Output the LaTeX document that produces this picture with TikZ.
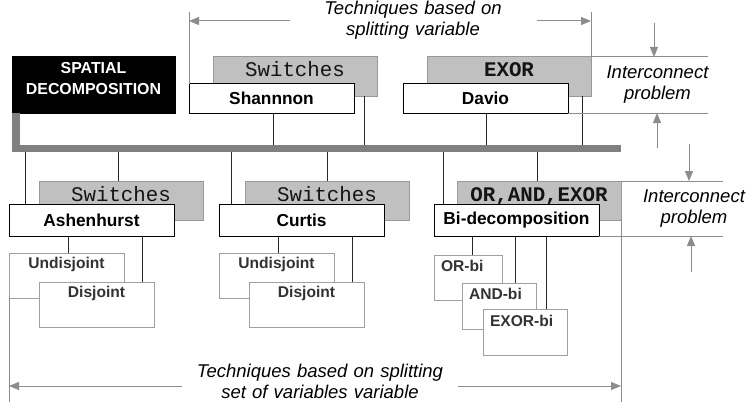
\documentclass[tikz,border=0pt]{standalone}
\usepackage{fontspec}
\setmainfont{Liberation Sans}
\newfontfamily\monofont{Liberation Mono}
\usetikzlibrary{arrows.meta}

\definecolor{boxfill}{HTML}{C0C0C0}
\definecolor{boxline}{HTML}{999999}
\definecolor{barcol}{HTML}{808080}
\definecolor{notecol}{HTML}{8C8C8C}
\definecolor{subline}{HTML}{A0A0A0}
\definecolor{subtext}{HTML}{333333}
\definecolor{wire}{HTML}{262626}

\tikzset{
  every node/.style={inner sep=0pt, outer sep=0pt},
  headbox/.style={draw=black, fill=black, line width=1pt, anchor=north west,
    text width=163pt, align=center, text height=17pt, text depth=39pt,
    text=white, font=\bfseries\fontsize{15.9}{21}\selectfont},
  gatebox/.style={draw=boxline, fill=boxfill, line width=1pt, anchor=north west,
    minimum width=164pt, text height=20pt, text depth=19pt,
    text=black!92, font=\monofont\fontsize{20.8}{24}\selectfont},
  gateboxbold/.style={gatebox, font=\monofont\bfseries\fontsize{20.8}{24}\selectfont},
  methodbox/.style={draw=black, fill=white, line width=1pt, anchor=north west,
    minimum width=165pt, minimum height=#1,
    font=\bfseries\fontsize{17.3}{20}\selectfont},
  subbox/.style={draw=subline, fill=white, line width=1pt, anchor=north west,
    minimum width=115pt, text height=15pt, text depth=30pt,
    text=subtext, font=\bfseries\fontsize{15.6}{19}\selectfont},
  bibox/.style={draw=subline, fill=white, line width=1pt, anchor=north west,
    inner xsep=7pt, text width=#1, align=left, text height=16pt, text depth=29.5pt,
    text=subtext, font=\bfseries\fontsize{15.6}{19}\selectfont},
  wireline/.style={draw=wire, line width=1pt},
  mainbar/.style={draw=barcol, line width=7.5pt},
  note/.style={draw=notecol, line width=1pt},
  notearrow/.style={note, -{Triangle[length=10pt,width=8pt]}, color=notecol},
  notetext/.style={text width=320pt, align=center,
    font=\itshape\fontsize{18.5}{21}\selectfont},
}

\begin{document}
\begin{tikzpicture}[x=1pt, y=-1pt]
\useasboundingbox (0,0) rectangle (747,412);

% ---- reference levels
\coordinate (bar)  at (0,148.5);
\coordinate (barR) at (621,148.5);
\coordinate (top)  at (0,12);
\coordinate (low)  at (0,402);

% ---- upper row: splitting one variable
\node[headbox] (spatial) at (12,57) {SPATIAL\\DECOMPOSITION};
\node[gatebox] (sw1) at (213,57) {Switches};
\node[methodbox=29pt] (shannon) at (189,84) {Shannnon};
\node[gateboxbold] (exor) at (427,57) {EXOR};
\node[methodbox=29pt] (davio) at (403,84) {Davio};

% ---- lower row: splitting a set of variables
\node[gatebox] (sw2) at (39,181) {Switches};
\node[methodbox=32pt] (ashen) at (9,204) {Ashenhurst};
\node[gatebox] (sw3) at (245,181) {Switches};
\node[methodbox=32pt] (curtis) at (219,204) {Curtis};
\node[gateboxbold] (oae) at (457,181) {OR,AND,EXOR};
\node[methodbox=32pt] (bidec) at (434,204) {Bi-decomposition};

% ---- connectors to the upper row
\draw[wireline] (273,0 |- shannon.south) -- (273,0 |- bar);
\draw[wireline] (364,0 |- sw1.south) -- (364,0 |- bar);
\draw[wireline] (486,0 |- davio.south) -- (486,0 |- bar);
\draw[wireline] (582,0 |- exor.south) -- (582,0 |- bar);

% ---- connectors to the lower row
\draw[wireline] (25,0 |- bar) -- (25,0 |- ashen.north);
\draw[wireline] (118,0 |- bar) -- (118,0 |- sw2.north);
\draw[wireline] (231,0 |- bar) -- (231,0 |- curtis.north);
\draw[wireline] (327,0 |- bar) -- (327,0 |- sw3.north);
\draw[wireline] (443,0 |- bar) -- (443,0 |- bidec.north);
\draw[wireline] (537,0 |- bar) -- (537,0 |- oae.north);

% ---- main bus
\draw[mainbar] ([xshift=4pt]spatial.south west) |- (barR);

% ---- sub-variants
\node[subbox] (und1) at (9,253) {Undisjoint};
\node[subbox] (dis1) at (39,282) {Disjoint};
\node[subbox] (und2) at (219,253) {Undisjoint};
\node[subbox] (dis2) at (249,282) {Disjoint};
\node[bibox=54pt] (orbi) at (434,255) {OR-bi};
\node[bibox=60pt, text depth=30pt] (andbi) at (462,283) {AND-bi};
\node[bibox=70pt, text height=17pt, text depth=29pt] (exorbi) at (483,309) {EXOR-bi};

\draw[wireline] (68,0 |- ashen.south) -- (68,0 |- und1.north);
\draw[wireline] (142,0 |- ashen.south) -- (142,0 |- dis1.north);
\draw[wireline] (278,0 |- curtis.south) -- (278,0 |- und2.north);
\draw[wireline] (352,0 |- curtis.south) -- (352,0 |- dis2.north);
\draw[wireline] (472,0 |- bidec.south) -- (472,0 |- orbi.north);
\draw[wireline] (515,0 |- bidec.south) -- (515,0 |- andbi.north);
\draw[wireline] (546,0 |- bidec.south) -- (546,0 |- exorbi.north);

% ---- span of the one-variable techniques
\draw[note] (shannon.north west) -- (shannon.north west |- top);
\draw[note] (exor.north east) -- (exor.north east |- top);
\coordinate (topL) at (290,21);
\coordinate (topR) at (537,21);
\draw[notearrow] (topL) -- (shannon.north west |- topL);
\draw[notearrow] (topR) -- (exor.north east |- topR);
\node[notetext, anchor=base] (toptext) at (413,14.5) {Techniques based on\\splitting variable};

% ---- span of the variable-set techniques
\draw[note] (und1.south west) -- (und1.south west |- low);
\draw[note] (oae.south east) -- (oae.south east |- low);
\coordinate (lowL) at (182,386);
\coordinate (lowR) at (458,386);
\draw[notearrow] (lowL) -- (und1.south west |- lowL);
\draw[notearrow] (lowR) -- (oae.south east |- lowR);
\node[notetext, anchor=base] (lowtext) at (320,377) {Techniques based on splitting\\set of variables variable};

% ---- interconnect problem, upper row
\draw[note] (exor.north east) -- (708,0 |- exor.north east);
\draw[note] (davio.south east) -- (708,0 |- davio.south east);
\draw[notearrow] (654,23) -- (654,0 |- exor.north);
\draw[notearrow] (657,148) -- (657,0 |- davio.south);
\node[notetext, anchor=base] (ic1) at (657.5,78) {Interconnect\\problem};

% ---- interconnect problem, lower row
\draw[note] (oae.north east) -- (723,0 |- oae.north east);
\draw[note] (bidec.south east) -- (723,0 |- bidec.south east);
\draw[notearrow] (689,144) -- (689,0 |- oae.north);
\draw[notearrow] (691,272) -- (691,0 |- bidec.south);
\node[notetext, anchor=base] (ic2) at (694,202) {Interconnect\\problem};
\end{tikzpicture}
\end{document}
